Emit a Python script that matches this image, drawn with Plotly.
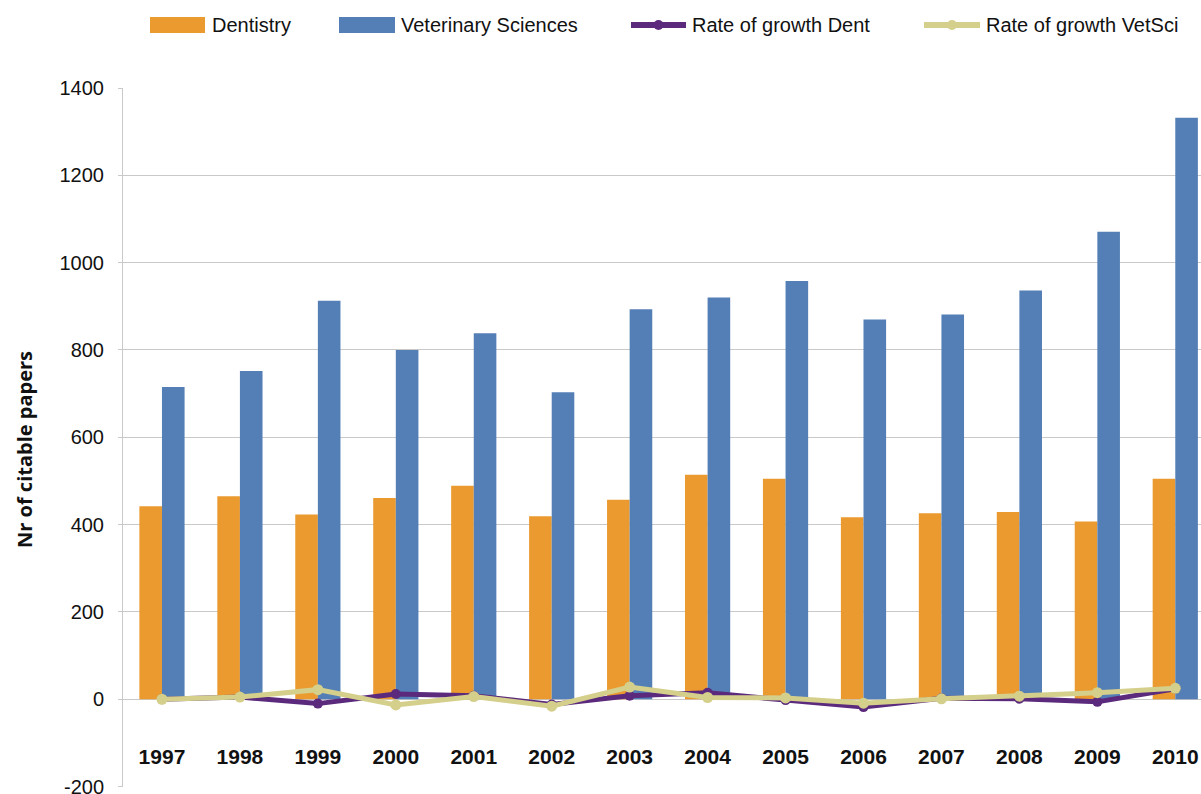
import plotly.graph_objects as go

years = ["1997", "1998", "1999", "2000", "2001", "2002", "2003",
         "2004", "2005", "2006", "2007", "2008", "2009", "2010"]
dentistry = [442, 465, 423, 461, 489, 419, 457, 514, 505, 417, 426, 429, 407, 505]
vet_sciences = [715, 752, 913, 800, 838, 703, 893, 920, 958, 870, 881, 936, 1071, 1332]
growth_dent = [0, 5, -10, 12, 8, -12, 8, 15, -2, -18, 2, 1, -6, 24]
growth_vet = [0, 5, 22, -13, 6, -16, 28, 4, 3, -9, 1, 7, 15, 25]
y_ticks = [-200, 0, 200, 400, 600, 800, 1000, 1200, 1400]

ORANGE = "#EA9A2F"
BLUE = "#547FB6"
PURPLE = "#5B2A7D"
KHAKI = "#D5CF8C"
GRID = "#C9C9C9"

W, H = 1201, 794
L, T, R, B = 123, 88, 0, 7
PW, PH = W - L - R, H - T - B


def px2x(px):
    return (px - L) / PW


def py2y(py):
    return (H - B - py) / PH


fig = go.Figure()
fig.add_trace(go.Bar(x=years, y=dentistry, name="Dentistry", marker_color=ORANGE,
                     marker_line_width=0))
fig.add_trace(go.Bar(x=years, y=vet_sciences, name="Veterinary Sciences", marker_color=BLUE,
                     marker_line_width=0))
fig.add_trace(go.Scatter(x=years, y=growth_dent, name="Rate of growth Dent", mode="lines+markers",
                         line=dict(color=PURPLE, width=5), marker=dict(color=PURPLE, size=10)))
fig.add_trace(go.Scatter(x=years, y=growth_vet, name="Rate of growth VetSci", mode="lines+markers",
                         line=dict(color=KHAKI, width=5), marker=dict(color=KHAKI, size=11)))

# manual legend (matching the original's wide swatches)
shapes = []
annotations = []
legend_items = [
    ("Dentistry", ORANGE, "bar", 150, 205, 210),
    ("Veterinary Sciences", BLUE, "bar", 339, 395, 399),
    ("Rate of growth Dent", PURPLE, "line", 631, 686, 690),
    ("Rate of growth VetSci", KHAKI, "line", 924, 980, 984),
]
ly = 25
for text, color, kind, x0, x1, tx in legend_items:
    if kind == "bar":
        shapes.append(dict(type="rect", xref="paper", yref="paper",
                           x0=px2x(x0), x1=px2x(x1), y0=py2y(ly + 8), y1=py2y(ly - 8),
                           fillcolor=color, line=dict(width=0)))
    else:
        shapes.append(dict(type="line", xref="paper", yref="paper",
                           x0=px2x(x0), x1=px2x(x1), y0=py2y(ly), y1=py2y(ly),
                           line=dict(color=color, width=6)))
        shapes.append(dict(type="circle", xref="paper", yref="paper",
                           xsizemode="pixel", ysizemode="pixel",
                           xanchor=px2x((x0 + x1) / 2), yanchor=py2y(ly),
                           x0=-5, x1=5, y0=-5, y1=5,
                           fillcolor=color, line=dict(width=0)))
    annotations.append(dict(text=text, xref="paper", yref="paper",
                            x=px2x(tx), y=py2y(ly), xanchor="left", yanchor="middle",
                            showarrow=False, font=dict(family="Liberation Sans", size=20, color="#111111")))

# y-axis title
annotations.append(dict(text="<b>Nr of citable papers</b>", xref="paper", yref="paper",
                        x=px2x(24), y=py2y(450), xanchor="center", yanchor="middle",
                        textangle=-90, showarrow=False,
                        font=dict(family="Open Sans", size=20, color="#111111")))

fig.update_layout(
    width=W, height=H,
    margin=dict(l=L, r=R, t=T, b=B, pad=0, autoexpand=False),
    plot_bgcolor="white", paper_bgcolor="white",
    barmode="group", bargap=0.42, bargroupgap=0,
    showlegend=False,
    shapes=shapes,
    annotations=annotations,
    font=dict(family="Liberation Sans", color="#111111"),
)
fig.update_xaxes(
    type="category", range=[-0.5, 13.33], automargin=False,
    showgrid=False, showline=False, zeroline=False, ticks="",
    ticklabelposition="inside", ticklabelstandoff=16, ticklabeloverflow="allow",
    tickfont=dict(family="Liberation Sans", size=21, weight="bold", color="#111111"),
)
fig.update_yaxes(
    range=[-201, 1400], tickvals=y_ticks, ticktext=[str(v) for v in y_ticks],
    automargin=False,
    showgrid=True, gridcolor=GRID, gridwidth=1,
    zeroline=True, zerolinecolor=GRID, zerolinewidth=1,
    showline=True, linecolor=GRID, linewidth=1,
    ticks="outside", ticklen=4, tickcolor=GRID,
    ticklabelstandoff=10, ticklabeloverflow="allow",
    tickfont=dict(family="Liberation Sans", size=20, color="#111111"),
)

fig.write_html("out.html")
